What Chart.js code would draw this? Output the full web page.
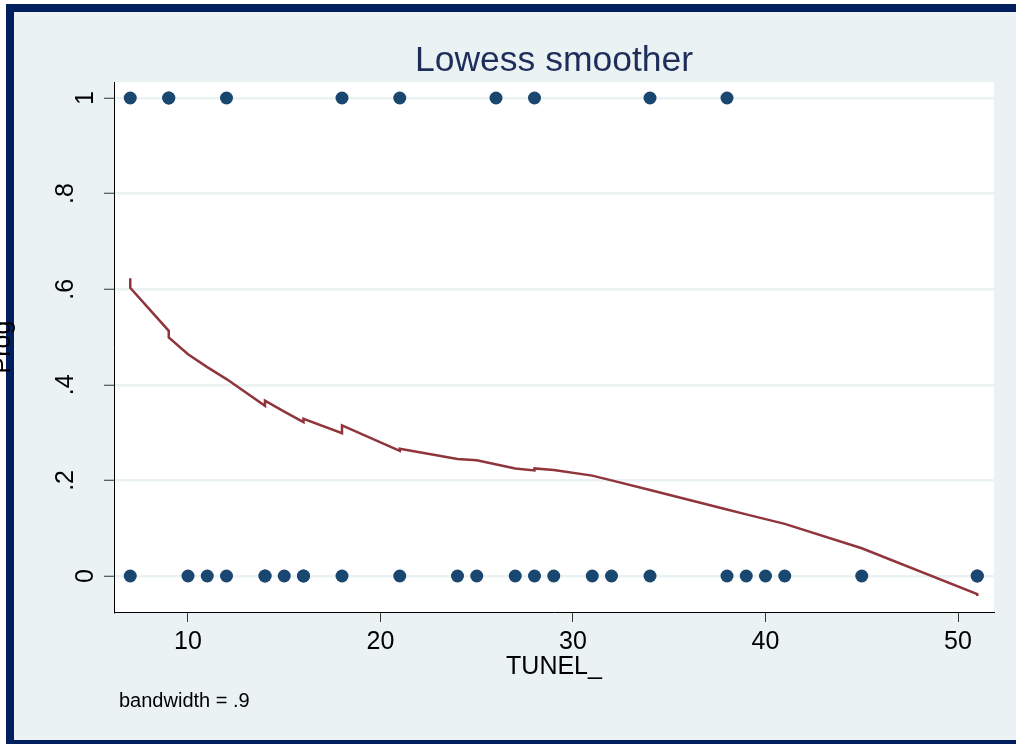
<!DOCTYPE html>
<html>
<head>
<meta charset="utf-8">
<title>Lowess smoother</title>
<script src="https://cdn.jsdelivr.net/npm/chart.js@4.4.1/dist/chart.umd.min.js"></script>
<style>
  html, body { margin: 0; padding: 0; background: #eaf2f3; overflow: hidden; }
  canvas { display: block; }
</style>
</head>
<body>
<canvas id="lowessChart" width="1016" height="744"></canvas>
<script>
// observations (TUNEL_, Prog)
const tunelOnes = [7, 9, 9, 12, 18, 21, 26, 28, 34, 38];
const tunelZeros = [7, 10, 11, 12, 14, 14, 15, 16, 16, 18, 21, 24, 25, 27, 28, 29, 31, 32, 34, 38, 39, 40, 41, 45, 51, 51];

// lowess fit (ties give the little steps)
const lowessX = [7, 7, 9, 9, 10, 11, 12, 14, 14, 15, 16, 16, 18, 18, 21, 21, 24, 25, 27, 28, 28, 29, 31, 32, 34, 38, 39, 40, 41, 45, 51, 51];
const lowessY = [0.623, 0.603, 0.513, 0.499, 0.464, 0.437, 0.412, 0.356, 0.367, 0.344, 0.322, 0.329, 0.299, 0.315, 0.262, 0.266, 0.245, 0.242, 0.225, 0.221, 0.225, 0.222, 0.210, 0.200, 0.180, 0.139, 0.129, 0.119, 0.109, 0.058, -0.038, -0.042];

const xTicks = [10, 20, 30, 40, 50];
const yTicks = [0, 0.2, 0.4, 0.6, 0.8, 1];
const yTickLabels = ['0', '.2', '.4', '.6', '.8', '1'];

const fontFamily = "'Liberation Sans', Arial, Helvetica, sans-serif";
const navy = '#001f5f';
const outerBg = '#eaf2f3';

const points = [];
tunelOnes.forEach(x => points.push({ x: x, y: 1 }));
tunelZeros.forEach(x => points.push({ x: x, y: 0 }));

const fitLine = lowessX.map((x, i) => ({ x: x, y: lowessY[i] }));

// background, frame (top, left, bottom only) and plot region
const backgroundPlugin = {
    id: 'stataBackground',
    beforeDraw(chart) {
        const ctx = chart.ctx;
        const area = chart.chartArea;
        const w = 1016;
        const h = 744;
        ctx.save();
        ctx.setTransform(1, 0, 0, 1, 0, 0);
        ctx.fillStyle = '#ffffff';
        ctx.fillRect(0, 0, w, h);
        ctx.fillStyle = outerBg;
        ctx.fillRect(14, 12, w - 14, h - 16);
        ctx.fillStyle = navy;
        ctx.fillRect(6, 4, w - 6, 8);
        ctx.fillRect(6, 4, 8, h - 4);
        ctx.fillRect(6, h - 4, w - 6, 4);
        ctx.restore();
        ctx.save();
        ctx.fillStyle = '#ffffff';
        ctx.fillRect(area.left, area.top, area.right - area.left, area.bottom - area.top);
        ctx.restore();
    }
};

// texts Chart.js can't place the Stata way (vertical y labels etc.)
const textPlugin = {
    id: 'stataText',
    afterDraw(chart) {
        const ctx = chart.ctx;
        const area = chart.chartArea;
        const yScale = chart.scales.y;
        ctx.save();

        ctx.fillStyle = '#1e2d5a';
        ctx.font = '35.5px ' + fontFamily;
        ctx.textAlign = 'center';
        ctx.textBaseline = 'alphabetic';
        ctx.fillText('Lowess smoother', (area.left + area.right) / 2, 71);

        ctx.fillStyle = '#000000';
        ctx.font = '25px ' + fontFamily;
        yTicks.forEach((v, i) => {
            const text = yTickLabels[i];
            const gap = 21 + (text.length - 1) * 20;
            ctx.save();
            ctx.translate(yScale.right - gap, yScale.getPixelForValue(v));
            ctx.rotate(-Math.PI / 2);
            ctx.fillText(text, 0, 0);
            ctx.restore();
        });

        ctx.save();
        ctx.translate(10, (area.top + area.bottom) / 2);
        ctx.rotate(-Math.PI / 2);
        ctx.fillText('Prog', 0, 0);
        ctx.restore();

        ctx.font = '20px ' + fontFamily;
        ctx.textAlign = 'left';
        ctx.fillText('bandwidth = .9', 119, 707);
        ctx.restore();
    }
};

const chart = new Chart(document.getElementById('lowessChart').getContext('2d'), {
    type: 'scatter',
    data: {
        datasets: [{
            label: 'Prog',
            data: points,
            showLine: false,
            backgroundColor: '#1a476f',
            borderWidth: 0,
            pointRadius: 6.5,
            pointHoverRadius: 6.5
        }, {
            label: 'lowess',
            data: fitLine,
            showLine: true,
            borderColor: '#90353b',
            borderWidth: 2.5,
            pointRadius: 0,
            tension: 0,
            fill: false
        }]
    },
    options: {
        responsive: false,
        animation: false,
        events: [],
        layout: { padding: { top: 82, right: 22, bottom: 0, left: 0 } },
        plugins: {
            legend: { display: false },
            tooltip: { enabled: false },
            title: { display: false }
        },
        scales: {
            x: {
                type: 'linear',
                min: 6.156,
                max: 51.87,
                afterBuildTicks: scale => { scale.ticks = xTicks.map(v => ({ value: v })); },
                afterFit: scale => { scale.height = 132; },
                ticks: {
                    color: '#000000',
                    padding: 5,
                    maxRotation: 0,
                    font: { family: fontFamily, size: 25 }
                },
                grid: {
                    drawOnChartArea: false,
                    tickLength: 10,
                    tickColor: '#333333',
                    tickWidth: 1
                },
                border: { color: '#000000', width: 1 },
                title: {
                    display: true,
                    text: 'TUNEL_',
                    color: '#000000',
                    font: { family: fontFamily, size: 25 },
                    padding: { top: 0, bottom: 61.7 }
                }
            },
            y: {
                type: 'linear',
                min: -0.0753,
                max: 1.0335,
                afterBuildTicks: scale => { scale.ticks = yTicks.map(v => ({ value: v })); },
                afterFit: scale => { scale.width = 114; },
                ticks: { display: false },
                grid: {
                    color: outerBg,
                    lineWidth: 2.5,
                    tickLength: 10,
                    tickColor: '#333333',
                    tickWidth: 1
                },
                border: { color: '#000000', width: 1 }
            }
        }
    },
    plugins: [backgroundPlugin, textPlugin]
});
</script>
</body>
</html>
